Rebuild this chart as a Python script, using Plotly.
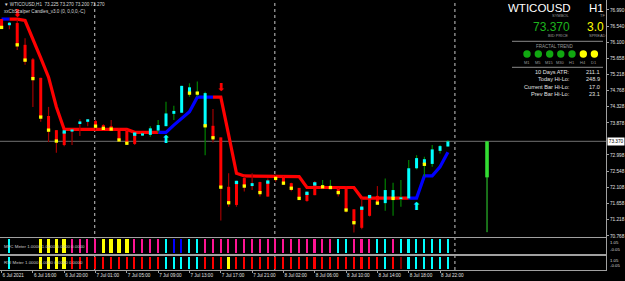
import plotly.graph_objects as go

# ---------------- data ----------------
bars = list(range(58))
opens = [76.74, 76.57, 76.63, 76.03, 75.63, 75.12, 74.07, 73.68, 73.63, 73.64,
         73.85, 73.91, 73.93, 73.82, 73.79, 73.73, 73.66, 73.57, 73.53, 73.55,
         73.67, 73.79, 74.13, 74.16, 74.70, 74.69, 73.78, 73.80, 73.48, 72.12,
         72.24, 72.36, 72.14, 72.25, 72.25, 72.42, 72.39, 72.22, 72.09, 71.94,
         72.20, 72.13, 72.11, 72.06, 72.11, 71.50, 71.53, 71.84, 71.87, 71.67,
         71.80, 71.78, 71.80, 72.63, 72.74, 72.75, 73.11, 73.23]
closes = [76.49, 76.64, 76.03, 75.57, 75.10, 74.04, 73.67, 73.39, 73.27, 73.70,
          73.92, 73.98, 73.79, 73.73, 73.71, 73.41, 73.32, 73.30, 73.59, 73.73,
          73.82, 74.14, 74.21, 74.90, 74.86, 74.72, 74.70, 73.47, 72.11, 71.68,
          71.62, 72.14, 72.22, 71.96, 71.85, 72.35, 72.22, 72.08, 71.80, 71.73,
          71.89, 72.11, 72.10, 71.96, 71.48, 71.13, 70.99, 71.32, 71.67, 72.03,
          72.03, 71.83, 72.63, 72.91, 72.88, 73.15, 73.24, 73.37]
highs = [76.74, 76.66, 76.72, 76.21, 75.67, 75.12, 74.32, 73.68, 73.68, 73.70,
         73.98, 73.98, 73.96, 73.84, 73.96, 73.74, 73.68, 73.60, 73.60, 73.79,
         73.96, 74.46, 74.35, 74.90, 74.97, 75.02, 74.74, 74.26, 73.48, 72.49,
         72.29, 72.40, 72.49, 72.26, 72.35, 72.45, 72.40, 72.23, 72.09, 71.99,
         72.28, 72.31, 72.31, 72.08, 72.12, 71.50, 71.80, 71.89, 72.14, 72.35,
         72.23, 72.31, 72.86, 72.99, 72.95, 73.27, 73.27, 73.41]
lows = [76.47, 76.46, 75.89, 75.48, 74.32, 73.91, 73.35, 73.06, 73.24, 73.27,
        73.52, 73.79, 73.68, 73.68, 73.68, 73.36, 73.27, 73.27, 73.52, 73.50,
        73.60, 73.79, 73.96, 74.16, 74.60, 74.60, 72.99, 73.34, 71.19, 71.57,
        71.57, 71.99, 72.03, 71.85, 71.85, 72.26, 72.17, 72.00, 71.76, 71.71,
        71.89, 72.08, 72.06, 71.85, 71.41, 70.86, 70.95, 71.30, 71.64, 71.46,
        71.32, 71.57, 71.80, 72.60, 72.40, 72.67, 73.04, 73.22]
# wick colour: R = bearish trend wick, G = bullish trend wick
wick_kind = list("RRRRRRRRRRRRRRRRRR" + "GGGGGGGGG" + "RRRRRRRRRRRRRR" + "GG" + "RRRRRR" + "GGGGGGGGG")
# scalper dots (bar -> (price, kind))
dots = {0: (76.51, "Y"), 2: (76.03, "Y"), 3: (75.61, "Y"), 4: (75.10, "Y"), 5: (74.04, "Y"),
        6: (73.68, "Y"), 7: (73.38, "Y"), 8: (73.63, "C"), 12: (73.79, "Y"), 13: (73.73, "Y"),
        14: (73.71, "Y"), 15: (73.41, "Y"), 16: (73.32, "Y"), 17: (73.57, "C"), 24: (74.70, "Y"),
        25: (74.70, "Y"), 26: (73.80, "Y"), 27: (73.47, "Y"), 28: (72.11, "Y"), 29: (71.68, "Y"),
        30: (72.24, "C"), 31: (72.14, "Y"), 33: (71.96, "Y"), 34: (72.25, "C"), 35: (72.35, "Y"),
        36: (72.22, "Y"), 37: (72.08, "Y"), 38: (71.80, "Y"), 39: (71.94, "C"), 40: (72.20, "C"),
        41: (72.12, "Y"), 42: (72.10, "Y"), 43: (71.96, "Y"), 44: (71.48, "Y"), 45: (71.13, "Y"),
        46: (71.53, "C"), 47: (71.85, "C"), 48: (71.67, "Y"), 50: (71.80, "Y"), 54: (72.74, "Y")}
trend = [76.74, 76.74, 76.74, 76.70, 76.16, 75.67, 75.14, 74.32, 73.70, 73.70,
         73.70, 73.70, 73.70, 73.70, 73.70, 73.70, 73.70, 73.62, 73.62, 73.62,
         73.62, 73.62, 73.82, 74.02, 74.19, 74.59, 74.59, 74.59, 74.59, 73.55,
         72.49, 72.42, 72.42, 72.42, 72.40, 72.40, 72.40, 72.40, 72.40, 72.10,
         72.10, 72.10, 72.10, 72.10, 72.10, 72.10, 71.81, 71.81, 71.81, 71.81,
         71.81, 71.81, 71.81, 71.81, 72.42, 72.42, 72.67, 73.07]
# colour of the segment bar i -> i+1
trend_seg = list("B" + "R" * 19 + "B" * 7 + "R" * 25 + "B" * 5)
sell_arrows = {"bar": [2, 28], "price": [76.86, 74.84]}
buy_arrows = {"bar": [21, 53], "price": [73.40, 71.55]}
daily = {"bar": 62, "open": 72.38, "high": 73.37, "low": 70.87, "close": 73.37}
bid = 73.370
mfc_kind = list("NCNNNYYYYMMMMYYYYMMMMCBBCC" + "M" * 17 + "CCMMMCCMCCCCCCC")
rsi_kind = list("NCNNNYYYYRRRRRRRRRRRRCCCCCRRRY" + "R" * 19 + "CRDCCCCCC")
price_ticks = [76.990, 76.540, 76.100, 75.658, 75.218, 74.768, 74.328, 73.878,
               72.998, 72.548, 72.108, 71.658, 71.218, 70.768]
time_tick_bars = [0, 4, 8, 12, 16, 20, 24, 28, 32, 36, 40, 44, 48, 52, 56]
time_tick_text = ["6 Jul 2021", "6 Jul 16:00", "6 Jul 20:00", "7 Jul 01:00", "7 Jul 05:00",
                  "7 Jul 09:00", "7 Jul 13:00", "7 Jul 17:00", "7 Jul 21:00", "8 Jul 02:00",
                  "8 Jul 06:00", "8 Jul 10:00", "8 Jul 14:00", "8 Jul 18:00", "8 Jul 22:00"]
day_sep_bars = [12, 35, 58]
fractal_tf = ["M1", "M5", "M15", "M30", "H1", "H4", "D1"]
fractal_state = ["G", "G", "G", "G", "G", "Y", "Y"]
stats = [("10 Days ATR:", "211.1"), ("Today Hi-Lo:", "248.9"),
         ("Current Bar Hi-Lo:", "17.0"), ("Prev Bar Hi-Lo:", "23.1")]

# ---------------- style ----------------
W, H = 606, 270            # plot area in px
MR, MB = 19, 11
FONT = "Liberation Sans, Arial, sans-serif"
RED, CYAN, YEL, BLUE = "#FF0000", "#00FFFF", "#FFFF00", "#0000FF"
WICK = {"R": "#A00000", "G": "#008000"}
METER = {"M": "#FF1493", "C": "#00FFFF", "B": "#0000FF", "Y": "#FFFF00", "R": "#FF0000", "D": "#800000"}
GREEN_TXT = "#1DB31D"
FRAME = "#a0a0a0"

def PX(x):
    return x / W

def PY(y):
    return 1 - y / H

fig = go.Figure()

# trend line (below candles)
def add_runs(kind, color):
    xs, ys = [], []
    for i, k in enumerate(trend_seg):
        if k == kind:
            if xs and xs[-1] == i:
                xs.append(i + 1); ys.append(trend[i + 1])
            else:
                if xs:
                    xs.append(None); ys.append(None)
                xs += [i, i + 1]; ys += [trend[i], trend[i + 1]]
    fig.add_trace(go.Scatter(x=xs, y=ys, mode="lines", line=dict(color=color, width=3.2),
                             hoverinfo="skip", xaxis="x", yaxis="y"))

add_runs("R", RED)
add_runs("B", BLUE)

# wicks
for kind in "RG":
    xs, ys = [], []
    for i in bars:
        if wick_kind[i] == kind:
            xs += [i, i, None]; ys += [lows[i], highs[i], None]
    fig.add_trace(go.Scatter(x=xs, y=ys, mode="lines", line=dict(color=WICK[kind], width=1.2),
                             hoverinfo="skip", xaxis="x", yaxis="y"))

# bodies
for bull, color in ((False, RED), (True, CYAN)):
    xs, ys = [], []
    for i in bars:
        if (closes[i] > opens[i]) == bull:
            lo, hi = min(opens[i], closes[i]), max(opens[i], closes[i])
            if hi - lo < 0.04:
                m = (hi + lo) / 2
                lo, hi = m - 0.02, m + 0.02
            xs += [i, i, None]; ys += [lo, hi, None]
    fig.add_trace(go.Scatter(x=xs, y=ys, mode="lines", line=dict(color=color, width=3),
                             hoverinfo="skip", xaxis="x", yaxis="y"))

# dots
for kind, color in (("Y", YEL), ("C", CYAN)):
    ks = [b for b, v in dots.items() if v[1] == kind]
    fig.add_trace(go.Scatter(x=ks, y=[dots[b][0] for b in ks], mode="markers",
                             marker=dict(symbol="square", size=3.3, color=color, line_width=0),
                             hoverinfo="skip", xaxis="x", yaxis="y"))

# signal arrows
fig.add_trace(go.Scatter(x=sell_arrows["bar"], y=sell_arrows["price"], mode="text", text=["⬇"] * 2,
                         textfont=dict(color=RED, size=11, family="DejaVu Sans"), hoverinfo="skip",
                         xaxis="x", yaxis="y"))
fig.add_trace(go.Scatter(x=buy_arrows["bar"], y=buy_arrows["price"], mode="text", text=["⬆"] * 2,
                         textfont=dict(color=CYAN, size=11, family="DejaVu Sans"), hoverinfo="skip",
                         xaxis="x", yaxis="y"))

# daily candle
fig.add_trace(go.Scatter(x=[daily["bar"], daily["bar"]], y=[daily["low"], daily["high"]], mode="lines",
                         line=dict(color="#33DD33", width=1), hoverinfo="skip", xaxis="x", yaxis="y"))
fig.add_trace(go.Scatter(x=[daily["bar"], daily["bar"]], y=[daily["open"], daily["close"]], mode="lines",
                         line=dict(color="#33DD33", width=3.6), hoverinfo="skip", xaxis="x", yaxis="y"))

# meters
for kinds, xa, ya in ((mfc_kind, "x2", "y2"), (rsi_kind, "x3", "y3")):
    ks = [i for i in bars if kinds[i] != "N"]
    fig.add_trace(go.Bar(x=ks, y=[1] * len(ks), base=0,
                         width=[0.45 if kinds[i] == "Y" else 0.2 for i in ks],
                         marker=dict(color=[METER[kinds[i]] for i in ks], line_width=0),
                         hoverinfo="skip", xaxis=xa, yaxis=ya))

# ---------------- layout ----------------
xr = [-0.2, -0.2 + W / 7.83]
main_dom = [1 - 237 / H, 1]
mfc_dom = [1 - 254 / H, 1 - 238 / H]
rsi_dom = [0, 1 - 256 / H]
ax_common = dict(range=xr, showgrid=False, zeroline=False, showline=True, mirror=True,
                 linecolor=FRAME, linewidth=1, fixedrange=True, automargin=False)

shapes = []
for b in day_sep_bars:
    shapes.append(dict(type="line", xref="x", yref="paper", x0=b - 0.1, x1=b - 0.1, y0=0, y1=1,
                       line=dict(color="#c8c8c8", width=1, dash="dot"), layer="below"))
shapes.append(dict(type="line", xref="paper", yref="y", x0=0, x1=1, y0=bid, y1=bid,
                   line=dict(color="#5a5a5a", width=1.2), layer="below"))
for yy in (41.3, 67.3):
    shapes.append(dict(type="line", xref="paper", yref="paper", x0=PX(512), x1=PX(603),
                       y0=PY(yy), y1=PY(yy), line=dict(color="#8a8a8a", width=1)))
circle_x = [527, 538.3, 549.7, 560.8, 572, 583.3, 594.4]
for cx, st in zip(circle_x, fractal_state):
    col = "#11A811" if st == "G" else "#FFFF00"
    shapes.append(dict(type="circle", xref="paper", yref="paper", x0=PX(cx - 3.7), x1=PX(cx + 3.7),
                       y0=PY(57.7), y1=PY(50.3), fillcolor=col, line=dict(color=col, width=0)))

ann = []

def txt(t, x, y, size, color, xa="center", ya="middle", **kw):
    ann.append(dict(text=t, x=PX(x), y=PY(y), xref="paper", yref="paper", xanchor=xa, yanchor=ya,
                    showarrow=False, borderpad=0, font=dict(family=FONT, size=size, color=color), **kw))

txt("▼ WTICOUSD,H1  73.225 73.270 73.200 73.270", 3, 5, 4.6, "#d8d8d8", xa="left")
txt("xxCbScalper Candles_v3.0 (0, 0,0,0,-C)", 3, 12, 4.6, "#d8d8d8", xa="left")
txt("WTICOUSD", 539, 8, 11.5, "#ffffff")
txt("H1", 596.5, 8, 11.5, "#ffffff")
txt("SYMBOL", 560, 15.8, 4, "#9a9a9a")
txt("TF", 602, 15.8, 4, "#9a9a9a")
txt("73.370", 551.5, 27, 12, GREEN_TXT)
txt("3.0", 595, 27, 12, "#FFFF00")
txt("BID PRICE", 558, 35.6, 4, "#9a9a9a")
txt("SPREAD", 597, 35.6, 4, "#9a9a9a")
txt("FRACTAL TREND", 554, 46, 4.5, "#9a9a9a")
for cx, tf in zip(circle_x, fractal_tf):
    txt(tf, cx, 62.3, 4, "#9a9a9a")
for j, (lab, val) in enumerate(stats):
    yy = 71.7 + j * 7.55
    txt(lab, 571, yy, 5.6, "#e0e0e0", xa="right")
    txt(val, 601, yy, 5.6, "#e0e0e0", xa="right")
txt("MFC Meter 1.0000 1.0000 0.0000 0.0000", 3, 246, 4.4, "#c8c8c8", xa="left")
txt("RSI Meter 1.0000 1.0000 0.0000 0.0000", 3, 262, 4.4, "#c8c8c8", xa="left")
# bid price tag on the price scale
ann.append(dict(text="73.370", x=1, y=bid, xref="paper", yref="y", xanchor="left", yanchor="middle",
                xshift=1, showarrow=False, bgcolor="#ffffff", borderpad=0.8,
                font=dict(family=FONT, size=4.7, color="#000000")))
# meter scale labels
for ya in ("y2", "y3"):
    ann.append(dict(text="1.05", x=1, y=1.05, xref="paper", yref=ya, xanchor="left", yanchor="top",
                    xshift=3, yshift=-1, showarrow=False, borderpad=0,
                    font=dict(family=FONT, size=4.3, color="#d8d8d8")))
    ann.append(dict(text="-0.05", x=1, y=-0.05, xref="paper", yref=ya, xanchor="left", yanchor="bottom",
                    xshift=3, yshift=1, showarrow=False, borderpad=0,
                    font=dict(family=FONT, size=4.3, color="#d8d8d8")))

fig.update_layout(
    template="none",
    width=625, height=281, margin=dict(l=0, r=MR, t=0, b=MB, pad=0, autoexpand=False),
    paper_bgcolor="#000000", plot_bgcolor="#000000", showlegend=False,
    barmode="overlay", bargap=0,
    xaxis=dict(**ax_common, domain=[0, 1], anchor="y", showticklabels=False, ticks=""),
    xaxis2=dict(**ax_common, domain=[0, 1], anchor="y2", showticklabels=False, ticks=""),
    xaxis3=dict(**ax_common, domain=[0, 1], anchor="y3", tickmode="array", tickvals=time_tick_bars,
                ticktext=time_tick_text, ticks="outside", ticklen=2, tickcolor=FRAME,
                ticklabelposition="outside right", tickangle=0,
                tickfont=dict(family=FONT, size=4.6, color="#e0e0e0")),
    yaxis=dict(domain=main_dom, range=[70.737, 77.265], side="right", anchor="x", showgrid=False,
               zeroline=False, showline=True, mirror=True, linecolor=FRAME, tickmode="array",
               tickvals=price_ticks, ticktext=[f"{v:.3f}" for v in price_ticks], ticks="outside",
               ticklen=2, tickcolor=FRAME, tickfont=dict(family=FONT, size=4.7, color="#e0e0e0"),
               fixedrange=True, automargin=False),
    yaxis2=dict(domain=mfc_dom, range=[-0.05, 1.05], anchor="x2", showgrid=False, zeroline=False,
                showline=True, mirror=True, linecolor=FRAME, showticklabels=False, ticks="",
                fixedrange=True, automargin=False),
    yaxis3=dict(domain=rsi_dom, range=[-0.05, 1.05], anchor="x3", showgrid=False, zeroline=False,
                showline=True, mirror=True, linecolor=FRAME, showticklabels=False, ticks="",
                fixedrange=True, automargin=False),
    shapes=shapes, annotations=ann,
)

fig.write_html("out.html", config={"displayModeBar": False})
